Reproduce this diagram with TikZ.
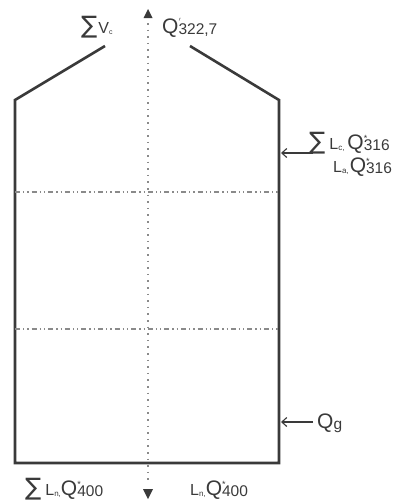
\documentclass[tikz,border=0pt]{standalone}
\usepackage{fontspec}
\setmainfont{Liberation Sans}
\newfontfamily\symfont{DejaVu Sans}
\usetikzlibrary{arrows.meta}
\definecolor{ink}{HTML}{3A3A3A}
\definecolor{grid}{HTML}{8A8A8A}
\newcommand\Sg{{\symfont\fontsize{24}{24}\selectfont ∑}}
\newcommand\Qx[2]{{\fontsize{21}{21}\selectfont Q}\rlap{\raisebox{1.45ex}{\fontsize{9}{9}\selectfont #1}}\raisebox{-0.25ex}{\fontsize{15.5}{15.5}\selectfont #2}}
\newcommand\Lx[1]{{\fontsize{16}{16}\selectfont L}\raisebox{-0.2ex}{\fontsize{8}{8}\selectfont #1}}
\begin{document}
\begin{tikzpicture}[x=1pt,y=-1pt,
  wall/.style={draw=ink,line width=2.6pt,line join=miter},
  sect/.style={draw=grid,line width=1.3pt,dash pattern=on 5pt off 3pt on 1.3pt off 3pt on 1.3pt off 3pt},
  axis/.style={draw=grid,line width=1.6pt,dash pattern=on 1.6pt off 5pt},
  flow/.style={draw=ink,line width=1.1pt,-{Straight Barb[length=5pt,width=9pt]}},
  lab/.style={anchor=base west,inner sep=0pt,text=ink},
  tip/.style={fill=ink}]
\useasboundingbox (0,0) rectangle (393,501);
% vessel
\draw[wall] (105,46) -- (15,100) -- (15,463) -- (279,463) -- (279,100) -- (190,46);
% section lines
\coordinate (s1l) at (15,192); \coordinate (s1r) at (279,192);
\coordinate (s2l) at (15,329); \coordinate (s2r) at (279,329);
\draw[sect] (s1l) -- (s1r);
\draw[sect] (s2l) -- (s2r);
% axis
\coordinate (atop) at (148,23); \coordinate (abot) at (148,484);
\draw[axis] (atop) -- (abot);
\fill[tip] (148,9) -- (152.5,18) -- (143.5,18) -- cycle;
\fill[tip] (148,499) -- (153,489) -- (143,489) -- cycle;
% top labels
\node[lab] (vc) at (81,33) {\Sg\kern1pt{\fontsize{16}{16}\selectfont V}\raisebox{-0.2ex}{\fontsize{7}{7}\selectfont c}};
\node[lab] (qtop) at (162,33) {\Qx{$'$}{322,7}};
% right inflows
\coordinate (in1) at (313,153); \coordinate (w1) at (281,153);
\draw[flow] (in1) -- (w1);
\node[lab] (l1) at (309,149) {\Sg\kern4pt\Lx{c,}\kern3pt\Qx{*}{316}};
\node[lab] (l2) at (333,172) {\Lx{a,}\kern1pt\Qx{*}{316}};
\coordinate (in2) at (313,422); \coordinate (w2) at (281,422);
\draw[flow] (in2) -- (w2);
\node[lab] (qg) at (317,428) {{\fontsize{21}{21}\selectfont Q}\raisebox{-0.25ex}{\fontsize{15.5}{15.5}\selectfont g}};
% bottom labels
\node[lab] (b1) at (25,495) {\Sg\kern4pt\Lx{n,}\Qx{*}{400}};
\node[lab] (b2) at (190,495) {\Lx{n,}\Qx{*}{400}};
\end{tikzpicture}
\end{document}
